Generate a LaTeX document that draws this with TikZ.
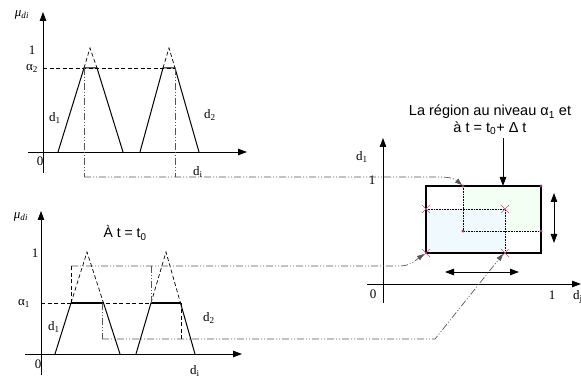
\documentclass[tikz,border=0pt]{standalone}
\usepackage{fontspec}
\setmainfont{Liberation Serif}
\newfontfamily\arialf{Liberation Sans}
\usetikzlibrary{arrows.meta,calc}
\definecolor{dotc}{HTML}{A0306A}
\definecolor{crossc}{HTML}{C8507A}
\definecolor{ddc}{HTML}{555555}
\begin{document}
\begin{tikzpicture}[x=1pt,y=-1pt,
  axis/.style={line width=0.8pt,-{Triangle[length=9pt,width=6.5pt]}},
  mf/.style={line width=1pt},
  mft/.style={line width=1.4pt},
  mfd/.style={line width=0.7pt,dash pattern=on 4pt off 2.5pt},
  ddot/.style={line width=0.7pt,ddc,dash pattern=on 7pt off 2pt on 1pt off 2pt on 1pt off 2pt},
  ddarrow/.style={ddot,-{Triangle[length=7pt,width=5pt]},shorten >=0pt},
  dbl/.style={line width=0.8pt,{Triangle[length=9pt,width=6.5pt]}-{Triangle[length=9pt,width=6.5pt]}},
  lbl/.style={font=\fontsize{13}{13}\selectfont,inner sep=0pt},
  slbl/.style={font=\arialf\fontsize{14.5}{16.5}\selectfont,inner sep=0pt,align=center},
  dotpt/.style={fill=dotc,draw=none},
  crossst/.style={crossc,line width=0.6pt}
]
\useasboundingbox (0,0) rectangle (581,379);

% ---------- top plot ----------
\draw[axis] (43,173) -- (43,12);
\draw[axis] (28,152) -- (247,152);
\node[lbl] (mu1) at (22,15) {\textit{μ}\textsubscript{\textit{di}}};
\node[lbl] (one1) at (32,50) {1};
\node[lbl] (al2) at (32,68) {α\textsubscript{2}};
\node[lbl] (d1a) at (55,118) {d\textsubscript{1}};
\node[lbl] (d2a) at (210,115) {d\textsubscript{2}};
\node[lbl] (z1) at (40,161) {0};
\node[lbl] (dia) at (198,172) {d\textsubscript{i}};
\draw[mfd] (43,68) -- (175,68);
\draw[mf] (58,152) -- (84,68) -- (97,68) -- (123,152);
\draw[mfd] (84,68) -- (90,48) -- (97,68);
\draw[mf] (140,152) -- (163,68) -- (175,68) -- (199,152);
\draw[mfd] (163,68) -- (169,48) -- (175,68);
\draw[ddot] (84,68) -- (84,177);
\draw[ddot] (175,68) -- (175,177);

% ---------- bottom plot ----------
\draw[axis] (41,375) -- (41,211);
\draw[axis] (25,354) -- (242,354);
\node[lbl] (mu2) at (21,217) {\textit{μ}\textsubscript{\textit{di}}};
\node[lbl,font=\arialf\fontsize{14}{14}\selectfont] (t0) at (125,233) {À t = t\textsubscript{0}};
\node[lbl] (one2) at (35,253) {1};
\node[lbl] (al1) at (24,303) {α\textsubscript{1}};
\node[lbl] (d1b) at (54,327) {d\textsubscript{1}};
\node[lbl] (d2b) at (209,318) {d\textsubscript{2}};
\node[lbl] (z2) at (38,364) {0};
\node[lbl] (dib) at (195,371) {d\textsubscript{i}};
\draw[mfd] (41,303) -- (183,303);
\draw[mf] (55,354) -- (71,303);
\draw[mft] (71,303) -- (103.5,303);
\draw[mf] (103.5,303) -- (120,354);
\draw[mfd] (71,303) -- (87,252) -- (103.5,303);
\draw[mf] (136,354) -- (151,303);
\draw[mft] (151,303) -- (180.5,303);
\draw[mf] (180.5,303) -- (195,354);
\draw[mfd] (151,303) -- (166,252) -- (180.5,303);
\draw[mfd] (71,303) -- (71,266);
\draw[ddot] (151,266) -- (151,303);
\draw[ddot] (102,303) -- (102,339);
\draw[mfd] (181,303) -- (181,339);

% ---------- right plot ----------
\draw[axis] (383,303) -- (383,138);
\draw[axis] (367,284) -- (581,284);
\node[lbl] (d1c) at (362,157) {d\textsubscript{1}};
\node[lbl] (one3) at (372,180) {1};
\node[lbl] (z3) at (373,294) {0};
\node[lbl] (one4) at (552,295) {1};
\node[lbl,anchor=west] (djc) at (573,297) {d\textsubscript{j}};

\fill[green!5] (463,186) rectangle (541,231);
\fill[cyan!6] (426,209) rectangle (505,253);
\draw[densely dotted,line width=0.6pt] (463,186) -- (463,231) -- (541,231);
\draw[densely dotted,line width=0.6pt] (426,209) -- (505,209) -- (505,253);
\draw[line width=1.3pt] (426,186) rectangle (541,253);
\foreach \xx/\yy in {463/186,541/186,463/231,541/231}
  \fill[dotpt] (\xx,\yy) circle (1.6);
\foreach \xx/\yy in {426/209,505/209,426/253,505/253}{
  \draw[crossst] (\xx-4,\yy-4) -- (\xx+4,\yy+4);
  \draw[crossst] (\xx-4,\yy+4) -- (\xx+4,\yy-4);
}
\draw[dbl] (554,193) -- (554,243);
\draw[dbl] (445,272) -- (519,272);

\node[slbl] (lab) at (490,120) {La région au niveau α\textsubscript{1} et\\à t = t\textsubscript{0}+ Δ t};
\coordinate (labfoot) at (503,138);
\coordinate (rtop) at (503,186);
\draw[line width=0.8pt,-{Triangle[length=9pt,width=6.5pt]}] (labfoot) -- (rtop);

% ---------- projection connectors ----------
\draw[ddarrow] (84,177) -- (440,177) .. controls (452,177) and (456,180) .. (462,185);
\draw[ddarrow] (71,266) -- (400,266) .. controls (410,266) and (416,260) .. (424,254);
\draw[ddarrow] (102,339) -- (435,339) -- (503,254);
\end{tikzpicture}
\end{document}
